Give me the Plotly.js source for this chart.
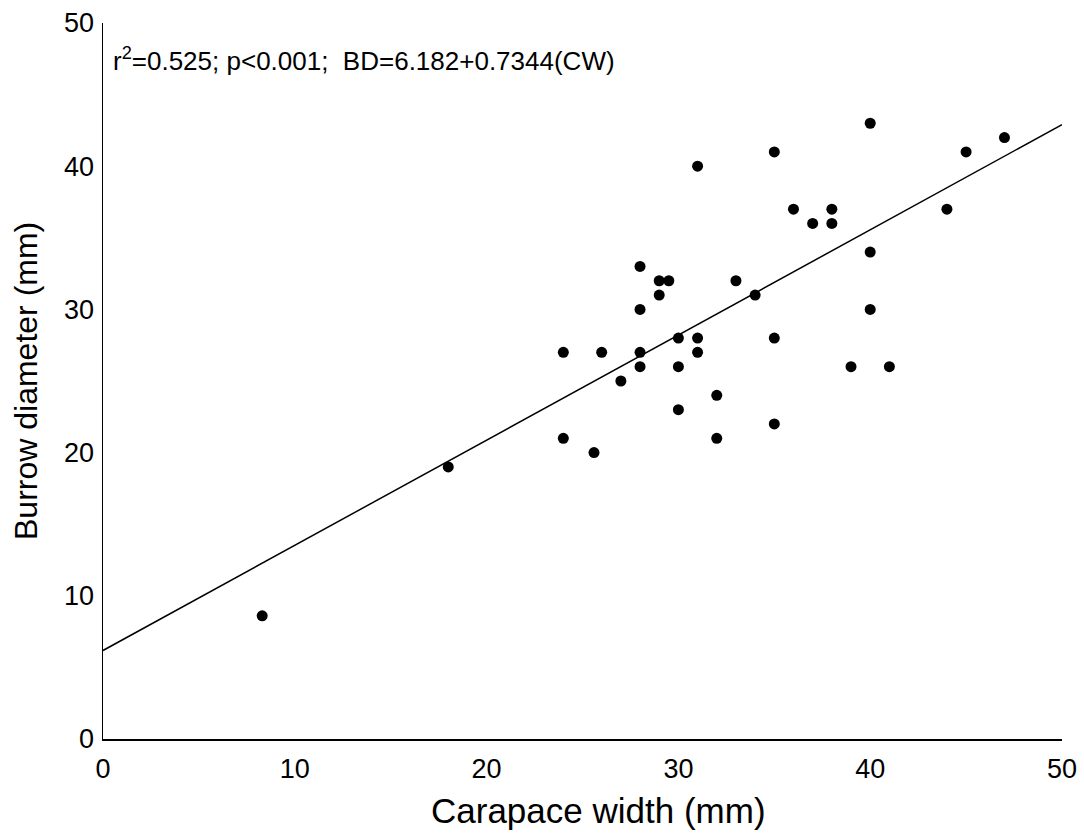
<!DOCTYPE html>
<html>
<head>
<meta charset="utf-8">
<script src="https://cdn.plot.ly/plotly-3.0.1.min.js"></script>
<style>html,body{margin:0;padding:0;background:#fff;}#chart{width:1084px;height:834px;}</style>
</head>
<body>
<div id="chart"></div>
<script>
// Carapace width (mm)
const carapaceWidth = [8.3, 18, 24, 24, 25.6, 26, 27, 28, 28, 28, 28, 29, 29.5, 29, 30, 30, 30, 31, 31, 31, 32, 32, 33, 34, 35, 35, 35, 36, 37, 38, 38, 39, 40, 40, 40, 41, 44, 45, 47];
// Burrow diameter (mm)
const burrowDiameter = [8.6, 19, 27, 21, 20, 27, 25, 33, 30, 27, 26, 32, 32, 31, 28, 26, 23, 40, 28, 27, 24, 21, 32, 31, 41, 28, 22, 37, 36, 37, 36, 26, 43, 34, 30, 26, 37, 41, 42];
// Regression: BD = 6.182 + 0.7344(CW)
const intercept = 6.182;
const slope = 0.7344;
const fitRange = [0, 50];
const tickVals = [0, 10, 20, 30, 40, 50];

const font = "Liberation Sans, Arial, sans-serif";

const traces = [
  {
    x: fitRange,
    y: fitRange.map(v => intercept + slope * v),
    mode: 'lines',
    line: {color: '#000', width: 1.5},
    hoverinfo: 'skip',
    cliponaxis: false
  },
  {
    x: carapaceWidth,
    y: burrowDiameter,
    mode: 'markers',
    marker: {color: '#000', size: 11},
    cliponaxis: false
  }
];

const layout = {
  width: 1084, height: 834,
  margin: {l: 103, r: 22, t: 23, b: 95},
  paper_bgcolor: '#fff', plot_bgcolor: '#fff',
  showlegend: false,
  font: {family: font, color: '#000'},
  xaxis: {
    range: [0, 50], tickvals: tickVals, ticks: '', showgrid: false, zeroline: false,
    showline: true, linecolor: '#000', linewidth: 1.5,
    tickfont: {size: 27, family: font, color: '#000'}, ticklabelstandoff: 5
  },
  yaxis: {
    range: [0, 50], tickvals: tickVals, ticks: '', showgrid: false, zeroline: false,
    showline: true, linecolor: '#000', linewidth: 1.5,
    tickfont: {size: 27, family: font, color: '#000'}, ticklabelstandoff: 2
  },
  annotations: [
    {
      text: 'r<sup>2</sup>=0.525; p&lt;0.001;&nbsp; BD=6.182+0.7344(CW)',
      xref: 'paper', yref: 'paper', x: 0.0083, y: (739 - 59) / 716,
      xanchor: 'left', yanchor: 'middle', showarrow: false,
      font: {size: 26, family: font, color: '#000'}
    },
    {
      text: 'Carapace width (mm)',
      xref: 'paper', yref: 'paper', x: (598 - 103) / 959, y: (739 - 810) / 716,
      xanchor: 'center', yanchor: 'middle', showarrow: false,
      font: {size: 35, family: font, color: '#000'}
    },
    {
      text: 'Burrow diameter (mm)',
      xref: 'paper', yref: 'paper', x: (26 - 103) / 959, y: 0.5,
      xanchor: 'center', yanchor: 'middle', showarrow: false, textangle: -90,
      font: {size: 32, family: font, color: '#000'}
    }
  ]
};

Plotly.newPlot('chart', traces, layout, {displayModeBar: false, staticPlot: true});
</script>
</body>
</html>
